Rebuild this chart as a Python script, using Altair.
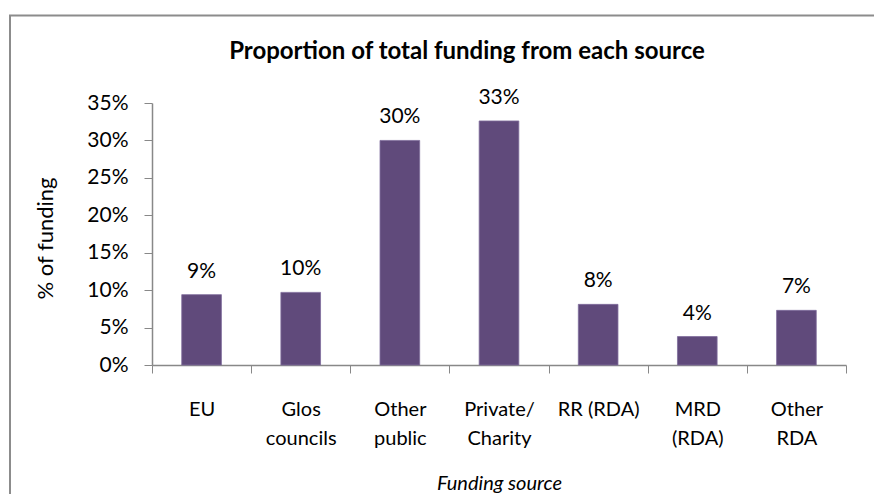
import altair as alt
import pandas as pd

categories = ["EU", "Glos\ncouncils", "Other\npublic", "Private/\nCharity", "RR (RDA)", "MRD\n(RDA)", "Other\nRDA"]
shares = [0.094, 0.097, 0.300, 0.326, 0.081, 0.038, 0.073]
y_ticks = [0, 0.05, 0.10, 0.15, 0.20, 0.25, 0.30, 0.35]

df = pd.DataFrame({"source": categories, "share": shares})
FONT = "Lato"

x_enc = alt.X(
    "source:N",
    sort=categories,
    scale=alt.Scale(paddingInner=0, paddingOuter=0),
    axis=alt.Axis(
        title="Funding source",
        titleFontStyle="italic",
        titleFontWeight="normal",
        titleFontSize=20,
        titleFont=FONT,
        titleColor="#000000",
        titleY=118,
        titleBaseline="middle",
        labelAngle=0,
        labelFontSize=20,
        labelFont=FONT,
        labelColor="#000000",
        labelLineHeight=29,
        labelPadding=26,
        labelExpr="split(datum.label, '\\n')",
        tickBand="extent",
        tickSize=8,
        tickColor="#888888",
        domainColor="#888888",
        domainWidth=1.5,
        labelBaseline="top",
    ),
)

y_enc = alt.Y(
    "share:Q",
    scale=alt.Scale(domain=[0, 0.35], nice=False, zero=True),
    axis=alt.Axis(
        title="% of funding",
        titleFontSize=22,
        titleFont=FONT,
        titleFontWeight="normal",
        titleColor="#000000",
        titleX=-107,
        titleY=135,
        titleBaseline="middle",
        values=y_ticks,
        format=".0%",
        labelFontSize=21,
        labelFont=FONT,
        labelColor="#000000",
        labelPadding=16,
        labelOverlap=False,
        labelFlush=False,
        tickSize=8,
        tickColor="#888888",
        domainColor="#888888",
        domainWidth=1.5,
        grid=False,
    ),
)

base = alt.Chart(df).encode(x=x_enc, y=y_enc)

bars = base.mark_bar(
    width=alt.RelativeBandSize(0.4),
    color="#604A7B",
    stroke="#7f6c9c",
    strokeWidth=0.8,
)

labels = base.mark_text(
    font=FONT, fontSize=21, color="#000000", baseline="alphabetic", dy=-17
).encode(
    text=alt.Text("share:Q", format=".0%"),
)

border = alt.Chart(pd.DataFrame({"k": [0]})).mark_rect(
    fill=None, stroke="#8c8c8c", strokeWidth=2
).encode(
    x=alt.value(-142),
    x2=alt.value(900),
    y=alt.value(-87.5),
    y2=alt.value(600),
)

chart = (
    alt.layer(border, bars, labels)
    .properties(
        width=694,
        height=262,
        autosize=alt.AutoSizeParams(type="none"),
        padding={"left": 144, "top": 95, "right": 28, "bottom": 129},
        title=alt.TitleParams(
            "Proportion of total funding from each source",
            font=FONT,
            fontSize=24,
            fontWeight="bold",
            color="#000000",
            anchor="middle",
            baseline="bottom",
            dx=-32,
            dy=73,
            offset=0,
        ),
    )
    .configure(background="white")
    .configure_view(stroke=None)
)

chart.save("out.html", embed_options={"renderer": "svg", "actions": False})
